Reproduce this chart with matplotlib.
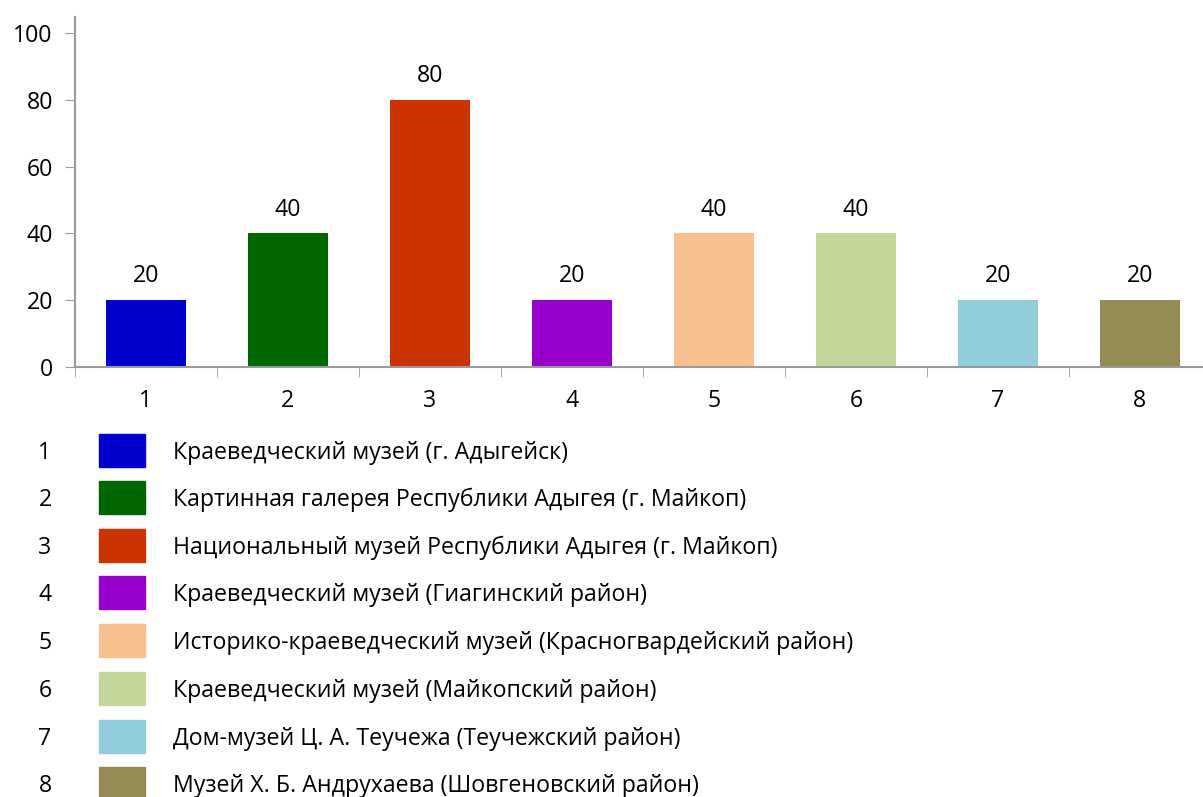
import matplotlib
matplotlib.use('Agg')
import matplotlib.pyplot as plt
from matplotlib.patches import Rectangle

plt.rcParams['font.family'] = ['Open Sans', 'DejaVu Sans']

# categories and values
categories = [1, 2, 3, 4, 5, 6, 7, 8]
values = [20, 40, 80, 20, 40, 40, 20, 20]
colors = ['#0000CC', '#006600', '#CC3300', '#9900CC',
          '#F9C090', '#C4D79B', '#92CDDC', '#948A54']
names = ['Краеведческий музей (г. Адыгейск)',
         'Картинная галерея Республики Адыгея (г. Майкоп)',
         'Национальный музей Республики Адыгея (г. Майкоп)',
         'Краеведческий музей (Гиагинский район)',
         'Историко-краеведческий музей (Красногвардейский район)',
         'Краеведческий музей (Майкопский район)',
         'Дом-музей Ц. А. Теучежа (Теучежский район)',
         'Музей Х. Б. Андрухаева (Шовгеновский район)']
yticks = [0, 20, 40, 60, 80, 100]

fs = 16.7
W, H = 1203, 797
fig = plt.figure(figsize=(W / 100, H / 100), dpi=100)

# axes area in pixels (right edge runs past the figure like the original)
x0, x1 = 75, 1211
y0, y1 = 367, 17
ax = fig.add_axes([x0 / W, 1 - y0 / H, (x1 - x0) / W, (y0 - y1) / H])

ax.bar(categories, values, width=0.56, color=colors)
for c, v in zip(categories, values):
    ax.annotate(str(v), (c, v), xytext=(0, 8.5), textcoords='offset points',
                ha='center', va='bottom', fontsize=fs)

ax.set_xlim(0.5, 8.5)
ax.set_ylim(0, 100 * (y0 - y1) / (367 - 33))
ax.set_yticks(yticks)
ax.set_yticklabels([str(t) for t in yticks], fontsize=fs)
ax.set_xticks(categories)
ax.set_xticklabels([str(c) for c in categories], fontsize=fs)
ax.tick_params(axis='x', length=0, pad=16)
ax.set_xticks([c + 0.5 for c in [0] + categories], minor=True)
ax.tick_params(axis='x', which='minor', length=7, color='#9a9a9a', direction='out')
ax.tick_params(axis='y', length=7, color='#9a9a9a', direction='out', pad=9)
for s in ['top', 'right']:
    ax.spines[s].set_visible(False)
for s in ['left', 'bottom']:
    ax.spines[s].set_color('#9a9a9a')
    ax.spines[s].set_linewidth(1.5)

# legend drawn below the chart
row_y = [450, 497, 545, 592, 640, 688, 736, 783]
for i, (c, col, name) in enumerate(zip(categories, colors, names)):
    yc = row_y[i]
    fig.text(45 / W, 1 - (yc + 3) / H, str(c), ha='center', va='center', fontsize=fs)
    fig.patches.append(Rectangle((99 / W, 1 - (yc + 16.5) / H), 46 / W, 33 / H,
                                 transform=fig.transFigure, color=col))
    fig.text(173 / W, 1 - (yc + 3) / H, name, ha='left', va='center', fontsize=fs)

fig.savefig('out.png', dpi=100)
